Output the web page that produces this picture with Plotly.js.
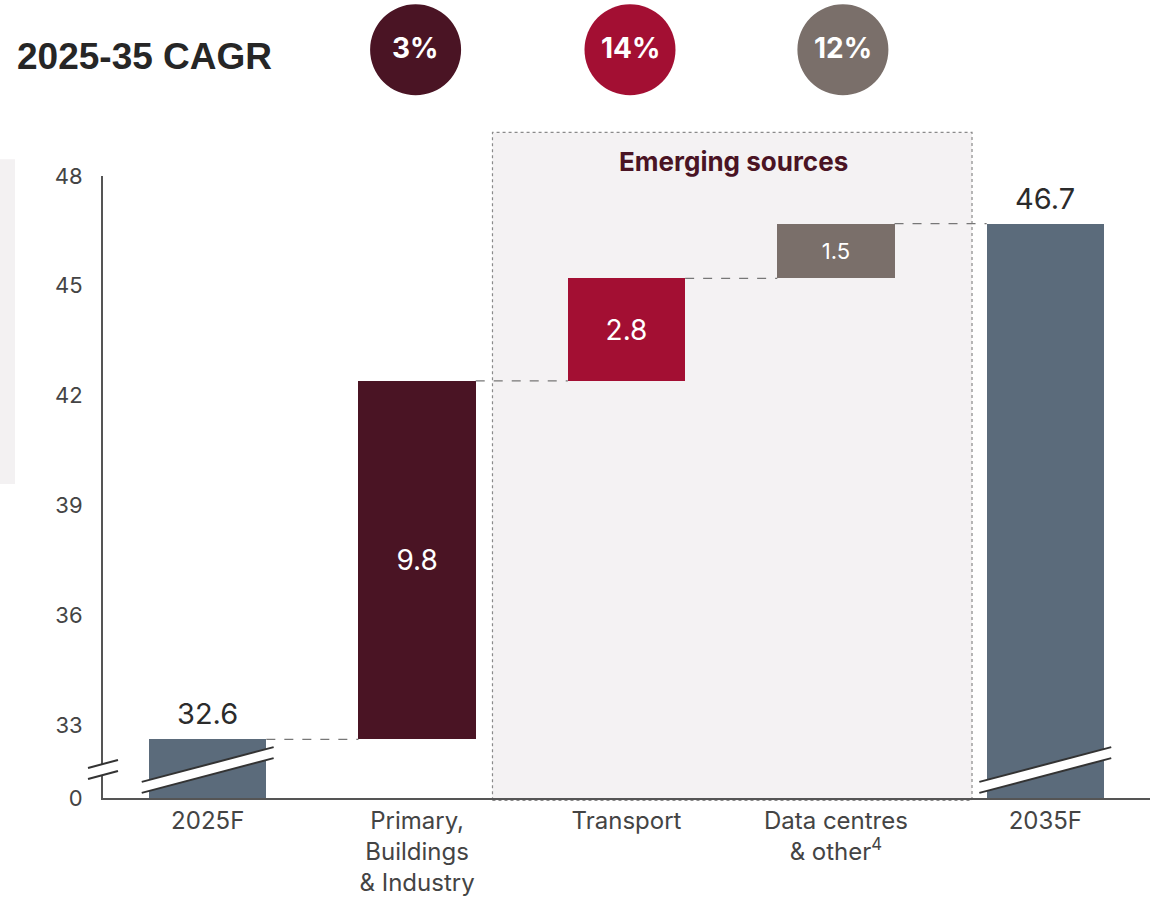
<!DOCTYPE html>
<html>
<head>
<meta charset="utf-8">
<script src="https://cdn.plot.ly/plotly-3.0.1.min.js"></script>
<style>
  html, body { margin: 0; padding: 0; background: #ffffff; }
  #chart { width: 1152px; height: 898px; }
</style>
</head>
<body>
<div id="chart"></div>
<script>
// ---- Data ----
const categories = ["2025F", "Primary,<br>Buildings<br>& Industry", "Transport", "Data centres<br>& other<sup>4</sup>", "2035F"];
const values = [32.6, 9.8, 2.8, 1.5, 46.7];
const measures = ["total", "relative", "relative", "relative", "total"];
const barColors = ["#5B6B7B", "#4A1424", "#A30F33", "#7A6F6A", "#5B6B7B"];
const cagrLabels = ["3%", "14%", "12%"];
const cagrColors = ["#4A1424", "#A30F33", "#7A6F6A"];
const cagrCategoryIndex = [1, 2, 3];
const yTickValues = [0, 33, 36, 39, 42, 45, 48];
const headerText = "2025-35 CAGR";
const groupLabel = "Emerging sources";

const FONT = "Inter, Roboto, sans-serif";

// ---- Broken axis: real 0 is drawn at AXIS_FLOOR ----
const AXIS_FLOOR = 31;
const AXIS_TOP = 48;
const disp = v => (v === 0 ? AXIS_FLOOR : v);

const bases = [], heights = [], tops = [];
let running = 0;
values.forEach((v, i) => {
  if (measures[i] === "total") {
    bases.push(AXIS_FLOOR); heights.push(v - AXIS_FLOOR); running = v;
  } else {
    bases.push(running); heights.push(v); running = +(running + v).toFixed(4);
  }
  tops.push(running);
});

const BAR_W = 0.56;
const totIdx = [], relIdx = [];
measures.forEach((m, i) => (m === "total" ? totIdx : relIdx).push(i));
const pick = (arr, idx) => idx.map(i => arr[i]);

const totalTrace = {
  type: "bar",
  x: pick(categories, totIdx),
  y: pick(heights, totIdx),
  base: pick(bases, totIdx),
  width: BAR_W,
  marker: { color: pick(barColors, totIdx), line: { width: 0 } },
  hoverinfo: "skip"
};
const relTrace = {
  type: "bar",
  x: pick(categories, relIdx),
  y: pick(heights, relIdx),
  base: pick(bases, relIdx),
  width: BAR_W,
  marker: { color: pick(barColors, relIdx), line: { width: 0 } },
  text: pick(values, relIdx).map(v => v.toFixed(1)),
  textposition: "inside",
  insidetextanchor: "middle",
  constraintext: "none",
  textfont: { family: FONT, color: "#ffffff", size: pick(values, relIdx).map(v => (v < 2 ? 22 : 28)) },
  hoverinfo: "skip"
};

const shapes = [];
const annotations = [];

// Emerging sources box
shapes.push({
  type: "rect", layer: "below", xref: "x", yref: "paper",
  x0: 1.36, x1: 3.65, y0: -0.004, y1: 1.07,
  fillcolor: "#F4F2F3", line: { color: "#8A8A8A", width: 1.2, dash: "dot" }
});
// left partial panel
shapes.push({
  type: "rect", layer: "below", xref: "paper", yref: "paper",
  x0: -0.0984, x1: -0.084, y0: 0.505, y1: 1.027,
  fillcolor: "#F3F1F2", line: { width: 0 }
});

// connectors
for (let i = 0; i < values.length - 1; i++) {
  shapes.push({
    type: "line", layer: "above", xref: "x", yref: "y",
    x0: i + BAR_W / 2, x1: i + 1 - BAR_W / 2, y0: tops[i], y1: tops[i],
    line: { color: "#777777", width: 1.2, dash: "dash" }
  });
}

// break marks
function breakMark(xc, xref, half, yLow, rise, gap) {
  shapes.push({
    type: "path", layer: "above", xref: xref, yref: "y",
    path: `M ${xc - half},${yLow} L ${xc + half},${yLow + rise} L ${xc + half},${yLow + rise + gap} L ${xc - half},${yLow + gap} Z`,
    fillcolor: "#ffffff", line: { width: 0 }
  });
  shapes.push({ type: "line", layer: "above", xref: xref, yref: "y",
    x0: xc - half, x1: xc + half, y0: yLow, y1: yLow + rise, line: { color: "#333333", width: 2 } });
  shapes.push({ type: "line", layer: "above", xref: xref, yref: "y",
    x0: xc - half, x1: xc + half, y0: yLow + gap, y1: yLow + rise + gap, line: { color: "#333333", width: 2 } });
}
totIdx.forEach(i => breakMark(i, "x", 0.315, AXIS_FLOOR + 0.14, 0.95, 0.30));
breakMark(0, "paper", 0.0143, AXIS_FLOOR + 0.52, 0.22, 0.30);

// total labels
totIdx.forEach(i => {
  annotations.push({
    xref: "x", yref: "y", x: i, y: tops[i], yanchor: "bottom", yshift: 6,
    text: values[i].toFixed(1), showarrow: false,
    font: { family: FONT, size: 29, color: "#2b2b2b" }
  });
});

// CAGR circles
const circleOffsets = [-1.5, 3.5, 7];
cagrLabels.forEach((lab, k) => {
  const idx = cagrCategoryIndex[k];
  shapes.push({
    type: "circle", layer: "above", xref: "x", yref: "paper",
    xsizemode: "pixel", ysizemode: "pixel",
    xanchor: idx, yanchor: 1.203,
    x0: circleOffsets[k] - 45.5, x1: circleOffsets[k] + 45.5, y0: -45.5, y1: 45.5,
    fillcolor: cagrColors[k], line: { width: 0 }
  });
  annotations.push({
    xref: "x", yref: "paper", x: idx, y: 1.203, xshift: circleOffsets[k], yshift: 2,
    xanchor: "center", yanchor: "middle",
    text: "<b>" + lab + "</b>", showarrow: false,
    font: { family: FONT, size: 28, color: "#ffffff" }
  });
});

// header
annotations.push({
  xref: "paper", yref: "paper", x: -0.0845, y: 1.192, xanchor: "left", yanchor: "middle",
  text: "<b>" + headerText + "</b>", showarrow: false,
  font: { family: "Liberation Sans, Arial, sans-serif", size: 37, color: "#262626" }
});
// emerging sources label
annotations.push({
  xref: "x", yref: "paper", x: 2.51, y: 1.023, xanchor: "center", yanchor: "middle",
  text: "<b>" + groupLabel + "</b>", showarrow: false,
  font: { family: FONT, size: 26, color: "#4A1424" }
});

const layout = {
  width: 1152, height: 898,
  margin: { l: 103, r: 2, t: 176, b: 100 },
  paper_bgcolor: "#ffffff", plot_bgcolor: "rgba(0,0,0,0)",
  showlegend: false, barmode: "overlay",
  font: { family: FONT, color: "#444444" },
  xaxis: {
    type: "category", categoryarray: categories, categoryorder: "array", range: [-0.5, 4.5],
    showline: true, linecolor: "#555555", linewidth: 2,
    showgrid: false, zeroline: false, ticks: "",
    tickfont: { family: FONT, size: 24, color: "#444444" },
    ticklabelstandoff: 0, fixedrange: true
  },
  yaxis: {
    range: [AXIS_FLOOR, AXIS_TOP],
    tickvals: yTickValues.map(disp), ticktext: yTickValues.map(String),
    showline: true, linecolor: "#555555", linewidth: 2,
    showgrid: false, zeroline: false, ticks: "",
    tickfont: { family: FONT, size: 22, color: "#444444" },
    ticklabelstandoff: 14, fixedrange: true
  },
  shapes: shapes,
  annotations: annotations,
  bargap: 0
};

Plotly.newPlot("chart", [totalTrace, relTrace], layout, { displayModeBar: false, staticPlot: true });
</script>
</body>
</html>
